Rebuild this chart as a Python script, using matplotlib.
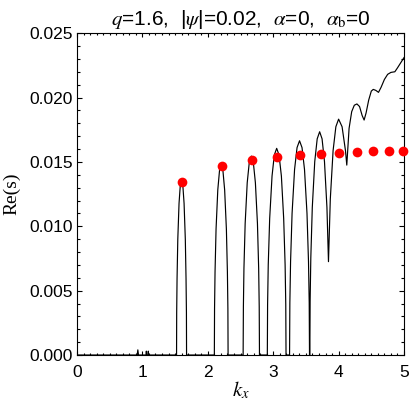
import numpy as np
import matplotlib
matplotlib.use('Agg')
import matplotlib.pyplot as plt
from matplotlib.ticker import MultipleLocator, FormatStrFormatter

# Growth rate Re(s) (k_x, value)
k_curve = [0.0, 0.92, 0.93, 0.94, 1.055, 1.06, 1.065, 1.085, 1.09, 1.095,
           1.522, 1.524, 1.5297, 1.541, 1.560, 1.579, 1.5985, 1.618, 1.637, 1.656, 1.667, 1.673, 1.675,
           2.100, 2.103, 2.1105, 2.126, 2.1525, 2.179, 2.205, 2.231, 2.2575, 2.284, 2.2995, 2.307, 2.310,
           2.540, 2.544, 2.5525, 2.571, 2.6025, 2.634, 2.665, 2.696, 2.7275, 2.759, 2.7775, 2.786, 2.790,
           2.910, 2.914, 2.924, 2.946, 2.982, 3.017, 3.053, 3.089, 3.125, 3.160, 3.182, 3.192, 3.196,
           3.250, 3.2545, 3.2655, 3.2885, 3.3265, 3.3645, 3.4025, 3.4405, 3.4785, 3.5165, 3.5395, 3.5505, 3.555,
           3.560, 3.5645, 3.575, 3.5975, 3.635, 3.6725, 3.710, 3.747, 3.784, 3.8215, 3.845,
           3.873, 3.9155, 3.958, 4.000, 4.053, 4.105, 4.125,
           4.160, 4.200, 4.240, 4.280, 4.320, 4.360, 4.390,
           4.420, 4.460, 4.500, 4.530, 4.570, 4.610,
           4.650, 4.700, 4.750, 4.800, 4.860, 4.900, 4.950, 5.000]
re_curve = [0.0, 0.0, 0.0004, 0.0, 0.0, 0.0003, 0.0, 0.0, 0.0003, 0.0,
            0.0, 0.0033, 0.00593, 0.00899, 0.01178, 0.01317, 0.0136, 0.01317, 0.01178, 0.00899, 0.00593, 0.0033, 0.0,
            0.0, 0.0036, 0.00645, 0.00978, 0.01282, 0.01433, 0.0148, 0.01433, 0.01282, 0.00978, 0.00645, 0.0036, 0.0,
            0.0, 0.00375, 0.00674, 0.01021, 0.01338, 0.01496, 0.01545, 0.01496, 0.01338, 0.01021, 0.00674, 0.00375, 0.0,
            0.0, 0.0039, 0.0070, 0.01061, 0.0139, 0.01554, 0.01605, 0.01554, 0.0139, 0.01061, 0.0070, 0.0039, 0.0,
            0.0, 0.00404, 0.00726, 0.0110, 0.01441, 0.01611, 0.01664, 0.01611, 0.01441, 0.0110, 0.00726, 0.00404, 0.0,
            0.0, 0.00421, 0.00756, 0.01146, 0.01502, 0.01679, 0.01734, 0.01679, 0.01502, 0.01146, 0.00725,
            0.01211, 0.01587, 0.01773, 0.01832, 0.01773, 0.01587, 0.01475,
            0.0176, 0.0189, 0.0194, 0.0195, 0.0193, 0.0186, 0.01825,
            0.0188, 0.0198, 0.0205, 0.02063, 0.02055, 0.0204,
            0.0208, 0.0214, 0.0218, 0.02195, 0.0220, 0.0223, 0.0227, 0.0231]

# Red markers
k_dots = [1.60, 2.21, 2.68, 3.06, 3.41, 3.73, 4.01, 4.28, 4.53, 4.77, 4.99]
re_dots = [0.01345, 0.01470, 0.01514, 0.01537, 0.01553, 0.01561,
           0.01571, 0.01576, 0.01581, 0.01584, 0.01586]

plt.rcParams['font.family'] = ['Liberation Sans', 'DejaVu Sans']
plt.rcParams['mathtext.fontset'] = 'stix'

fig = plt.figure(figsize=(4.09, 4.09), dpi=100)
ax = fig.add_axes([0.1883, 0.132, 0.7995, 0.787])

ax.plot(k_curve, re_curve, color='black', lw=0.85)
ax.plot(k_dots, re_dots, 'o', color='red', ms=7, mec='none', clip_on=False, zorder=3)

ax.set_xlim(0, 5)
ax.set_ylim(0, 0.025)
ax.xaxis.set_major_locator(MultipleLocator(1))
ax.xaxis.set_minor_locator(MultipleLocator(0.1))
ax.yaxis.set_major_locator(MultipleLocator(0.005))
ax.yaxis.set_minor_locator(MultipleLocator(0.001))
ax.yaxis.set_major_formatter(FormatStrFormatter('%.3f'))
ax.tick_params(which='both', direction='in', top=True, right=True, labelsize=12.5, width=0.8)
ax.tick_params(axis='x', which='major', length=3.2, pad=7)
ax.tick_params(axis='x', which='minor', length=1.6)
ax.tick_params(axis='y', which='major', length=3.8, pad=3)
ax.tick_params(axis='y', which='minor', length=1.9)
for s in ax.spines.values():
    s.set_linewidth(0.8)

ax.set_xlabel(r'$k_x$', fontsize=15, labelpad=0)
ax.set_ylabel('Re(s)', fontsize=14, family='Liberation Serif', labelpad=6)
ax.set_title(r'$q$=1.6,  |$\psi$|=0.02,  $\alpha$=0,  $\alpha_{\rm b}$=0', fontsize=15, pad=6)

fig.savefig('out.png', dpi=100)
